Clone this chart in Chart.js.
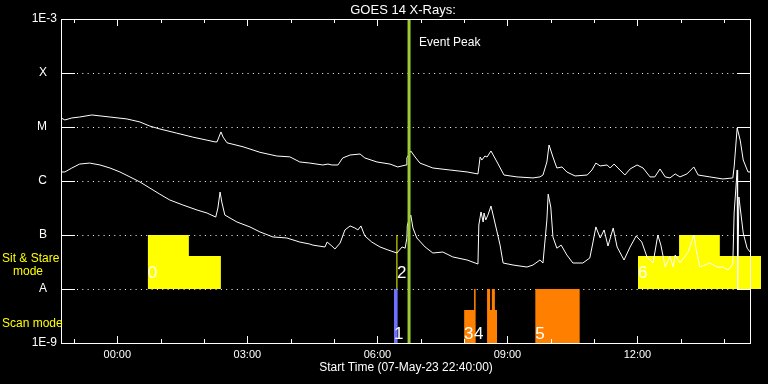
<!DOCTYPE html>
<html><head><meta charset="utf-8">
<script src="https://cdn.jsdelivr.net/npm/chart.js@4.4.1/dist/chart.umd.min.js"></script>
<style>html,body{margin:0;padding:0;background:#000;}#wrap{width:768px;height:384px;}</style>
</head><body><div id="wrap"><canvas id="c" width="768" height="384"></canvas></div>
<script>
// time in hours relative to 08-May 00:00 (start 07-May-23 22:40)
const plotStartTime = -1.30;
const plotEndTime = 14.62;      // right frame of the plot
const xAxisMaxTime = 14.85;     // last Sit & Stare block runs past the frame
const xTickValues = [0, 3, 6, 9, 12];
const xTickLabels = ['00:00', '03:00', '06:00', '09:00', '12:00'];
const yTickValues = [1e-9, 1e-8, 1e-7, 1e-6, 1e-5, 1e-4, 1e-3];
const yTickLabels = ['1E-9', 'A   ', 'B   ', 'C   ', 'M   ', 'X   ', '1E-3'];

const longTimes = [-1.30,-1.21,-1.05,-0.87,-0.59,-0.17,0.22,0.52,0.75,0.98,
  1.37,1.74,2.07,2.25,2.30,2.39,2.44,2.53,2.90,3.29,
  3.68,3.98,4.21,4.44,4.74,4.86,4.95,5.09,5.20,5.37,
  5.60,5.71,5.99,6.29,6.47,6.66,6.68,6.77,6.87,6.98,
  7.28,7.67,8.07,8.32,8.37,8.41,8.48,8.53,8.62,8.76,
  8.92,9.22,9.59,9.75,9.82,9.91,9.96,10.05,10.14,10.26,
  10.37,10.56,10.84,10.95,11.04,11.14,11.30,11.37,11.46,11.55,
  11.71,11.83,11.99,12.13,12.29,12.40,12.52,12.64,12.75,12.87,
  12.98,13.14,13.30,13.40,13.67,13.97,14.20,14.23,14.30,14.37,
  14.44,14.55,14.62];
const longFlux = [1.47e-5,1.35e-5,1.47e-5,1.53e-5,1.67e-5,1.53e-5,1.41e-5,1.24e-5,1.04e-5,9.2e-6,
  7.7e-6,6.5e-6,5.7e-6,5.3e-6,5.3e-6,8.1e-6,6.5e-6,5.1e-6,4.3e-6,3.4e-6,
  2.9e-6,2.8e-6,2.25e-6,2.15e-6,1.98e-6,2.06e-6,1.98e-6,1.98e-6,2.67e-6,3.03e-6,
  3.16e-6,2.67e-6,2.25e-6,2.06e-6,1.82e-6,1.98e-6,2.67e-6,3.6e-6,2.78e-6,2.15e-6,
  1.74e-6,1.6e-6,1.47e-6,1.35e-6,2.78e-6,2.45e-6,2.9e-6,2.78e-6,3.6e-6,2.25e-6,
  1.29e-6,1.19e-6,1.14e-6,1.19e-6,1.29e-6,2.25e-6,4.64e-6,2.78e-6,1.74e-6,1.82e-6,
  1.47e-6,1.24e-6,1.29e-6,1.6e-6,2.15e-6,1.9e-6,1.98e-6,1.74e-6,2.06e-6,1.74e-6,
  1.29e-6,1.67e-6,1.98e-6,1.74e-6,1.19e-6,1.19e-6,1.67e-6,1.19e-6,1.14e-6,1.35e-6,
  1.19e-6,1.35e-6,1.82e-6,1.29e-6,1.19e-6,1.09e-6,1.14e-6,1.82e-6,9.6e-6,5.7e-6,
  2.45e-6,1.47e-6,1.47e-6];

const shortTimes = [-1.30,-1.21,-1.05,-0.87,-0.64,-0.40,-0.17,0.06,0.29,0.52,
  0.75,0.98,1.21,1.51,1.84,2.07,2.27,2.32,2.37,2.41,
  2.48,2.76,3.06,3.29,3.59,3.91,4.21,4.44,4.51,4.79,
  4.84,4.95,5.02,5.14,5.25,5.37,5.48,5.55,5.62,5.71,
  5.87,6.06,6.24,6.45,6.57,6.64,6.68,6.69,6.77,6.82,
  6.91,7.10,7.28,7.51,7.74,8.07,8.32,8.34,8.39,8.44,
  8.46,8.50,8.55,8.62,8.67,8.76,8.83,8.90,9.13,9.45,
  9.59,9.75,9.82,9.91,9.94,10.00,10.05,10.14,10.24,10.37,
  10.51,10.74,10.90,10.97,11.04,11.14,11.23,11.32,11.44,11.53,
  11.69,11.83,11.97,12.10,12.22,12.36,12.47,12.54,12.64,12.75,
  12.82,12.87,12.98,13.17,13.30,13.37,13.44,13.67,13.84,13.97,
  14.09,14.20,14.23,14.30,14.31,14.34,14.44,14.53,14.60];
const shortFlux = [1.47e-6,1.47e-6,1.74e-6,2.06e-6,2.15e-6,1.98e-6,1.74e-6,1.47e-6,1.19e-6,9.6e-7,
  7.4e-7,5.7e-7,4.45e-7,3.6e-7,2.9e-7,2.55e-7,2.15e-7,3.16e-7,6.25e-7,4.08e-7,
  2.34e-7,1.74e-7,1.41e-7,1.14e-7,9.2e-8,8.8e-8,7.4e-8,6.8e-8,6.5e-8,6.0e-8,
  7.4e-8,6.25e-8,5.5e-8,7.1e-8,1.24e-7,1.47e-7,1.35e-7,1.24e-7,1.47e-7,9.6e-8,
  7.4e-8,6.0e-8,5.3e-8,4.64e-8,6.0e-8,5.7e-8,8.8e-8,1.53e-7,2.34e-7,1.35e-7,
  8.8e-8,6.0e-8,4.64e-8,4.84e-8,3.92e-8,3.44e-8,2.9e-8,1.53e-7,2.67e-7,1.74e-7,
  2.55e-7,1.9e-7,2.34e-7,3.44e-7,2.34e-7,1.14e-7,6.5e-8,3.03e-8,2.78e-8,2.55e-8,
  2.78e-8,3.44e-8,3.03e-8,1.9e-7,5.7e-7,3.3e-7,9.2e-8,5.7e-8,6.5e-8,4.27e-8,
  3.03e-8,3.03e-8,3.75e-8,7.1e-8,1.41e-7,8.8e-8,1.24e-7,6.25e-8,1.35e-7,6.0e-8,
  3.44e-8,6.0e-8,9.6e-8,7.4e-8,3.92e-8,3.03e-8,1.0e-7,6.5e-8,2.55e-8,4.08e-8,
  2.55e-8,4.27e-8,3.03e-8,4.84e-8,1.0e-7,4.64e-8,2.55e-8,3.03e-8,2.55e-8,2.55e-8,
  2.25e-8,2.9e-8,2.55e-7,1.6e-6,1.0e-8,5.06e-7,1.09e-7,5.7e-8,4.84e-8];

// Sit & Stare blocks (rectangles from base level 1E-8 to top)
const sitStareStart = [0.70, 1.65, 12.01, 12.96, 13.90];
const sitStareEnd   = [1.65, 2.39, 12.96, 13.90, 14.85];
const sitStareTop   = [1e-7, 4.1e-8, 4.1e-8, 1e-7, 4.1e-8];
const sitStareBase  = 1e-8;
const sitStareLineTime = 6.45;            // event 2 (instant)
const sitStareLineTop = 1e-7;
// Scan mode blocks (rectangles from 1E-9 up to top)
const scanBlueStart = [6.38];
const scanBlueEnd   = [6.47];
const scanBlueTop   = [1e-8];
const scanStart = [8.00, 8.23, 8.53, 8.60, 8.64, 8.71, 9.64];
const scanEnd   = [8.23, 8.27, 8.60, 8.64, 8.71, 8.76, 10.67];
const scanTop   = [4.1e-9, 1e-8, 1e-8, 4.1e-9, 1e-8, 4.1e-9, 1e-8];
const eventPeakTime = 6.73;

const eventLabels = ['0', '2', '6'];
const eventLabelTimes = [0.70, 6.45, 12.01];
const scanLabels = ['1', '3', '4', '5'];
const scanLabelTimes = [6.38, 8.00, 8.23, 9.64];

const pts = (xs, ys) => xs.map((x, i) => ({x: x, y: ys[i]}));
function blocks(st, en, top) {
  const out = [];
  st.forEach((s, i) => {
    out.push({x: s, y: top[i]}, {x: en[i], y: top[i]});
    if (i < st.length - 1 && Math.abs(st[i + 1] - en[i]) > 1e-9) out.push({x: en[i], y: null});
  });
  return out;
}

const FONT = "'Liberation Sans', Arial, sans-serif";
Chart.defaults.font.family = FONT;
Chart.defaults.color = '#fff';

const bgPlugin = {
  id: 'bg',
  beforeDraw(chart) {
    const c = chart.ctx; c.save(); c.fillStyle = '#000';
    c.fillRect(0, 0, chart.width, chart.height); c.restore();
  },
  beforeDatasetsDraw(chart) {
    // dotted decade grid lines, from the left axis to the plot frame
    const c = chart.ctx, a = chart.chartArea, xs = chart.scales.x, ys = chart.scales.y;
    const right = Math.round(xs.getPixelForValue(plotEndTime));
    c.save();
    c.strokeStyle = '#fff'; c.lineWidth = 1; c.setLineDash([1, 4.33]);
    c.beginPath();
    yTickValues.slice(1, -1).forEach(v => {
      const py = Math.round(ys.getPixelForValue(v)) + 0.5;
      c.moveTo(a.left, py); c.lineTo(right, py);
    });
    c.stroke();
    c.restore();
  }
};

const overlay = {
  id: 'overlay',
  afterDatasetsDraw(chart) {
    const c = chart.ctx, a = chart.chartArea;
    const xs = chart.scales.x, ys = chart.scales.y;
    const left = Math.round(a.left), right = Math.round(xs.getPixelForValue(plotEndTime));
    c.save();
    c.strokeStyle = '#fff'; c.lineWidth = 1;
    c.strokeRect(left + 0.5, Math.round(a.top) + 0.5, right - left - 1, Math.round(a.bottom - a.top));
    c.beginPath();
    for (let h = Math.ceil(plotStartTime); h <= Math.floor(plotEndTime); h++) {
      const px = Math.round(xs.getPixelForValue(h)) + 0.5;
      const len = (h % 3 === 0) ? 7 : 4;
      c.moveTo(px, a.bottom); c.lineTo(px, a.bottom - len);
      c.moveTo(px, a.top); c.lineTo(px, a.top + len);
    }
    yTickValues.slice(1, -1).forEach(v => {
      const py = Math.round(ys.getPixelForValue(v)) + 0.5;
      c.moveTo(left, py); c.lineTo(left + 14, py);
      c.moveTo(right - 14, py); c.lineTo(right, py);
    });
    c.stroke();
    const mid = (left + right) / 2;
    c.fillStyle = '#fff';
    c.textBaseline = 'middle';
    c.textAlign = 'center';
    c.font = '13px ' + FONT;
    c.fillText('GOES 14 X-Rays:', mid - 3, 10);
    c.font = '12px ' + FONT;
    c.fillText('Start Time (07-May-23 22:40:00)', mid, 368);
    c.textAlign = 'left';
    c.fillText('Event Peak', xs.getPixelForValue(eventPeakTime) + 10, a.top + 24);
    c.fillStyle = '#ffff00';
    c.fillText('Sit & Stare', 2, 259);
    c.fillText('mode', 13, 272);
    c.fillText('Scan mode', 2, 324);
    c.fillStyle = '#fff';
    c.font = '17px ' + FONT;
    c.textBaseline = 'alphabetic';
    eventLabels.forEach((t, i) => c.fillText(t, xs.getPixelForValue(eventLabelTimes[i]), ys.getPixelForValue(sitStareBase) - 11));
    scanLabels.forEach((t, i) => c.fillText(t, xs.getPixelForValue(scanLabelTimes[i]), a.bottom - 4));
    c.restore();
  }
};

new Chart(document.getElementById('c'), {
  type: 'line',
  data: {
    datasets: [
      {label: 'Event Peak', data: [{x: eventPeakTime, y: 1e-9}, {x: eventPeakTime, y: 1e-3}],
       borderColor: '#9acd32', borderWidth: 3, order: 0},
      {label: '0.1-0.8 nm', data: pts(longTimes, longFlux), borderColor: '#fff', borderWidth: 1, order: 1},
      {label: '0.05-0.4 nm', data: pts(shortTimes, shortFlux), borderColor: '#fff', borderWidth: 1, order: 1},
      {label: 'Sit & Stare 2', data: [{x: sitStareLineTime, y: sitStareBase}, {x: sitStareLineTime, y: sitStareLineTop}],
       borderColor: '#ffff00', borderWidth: 1, order: 2},
      {label: 'Sit & Stare', data: blocks(sitStareStart, sitStareEnd, sitStareTop), borderWidth: 0,
       borderColor: 'rgba(0,0,0,0)', backgroundColor: '#ffff00', fill: {value: sitStareBase}, spanGaps: false, order: 3},
      {label: 'Scan 1', data: blocks(scanBlueStart, scanBlueEnd, scanBlueTop), borderWidth: 0,
       borderColor: 'rgba(0,0,0,0)', backgroundColor: '#7070ff', fill: 'start', order: 3},
      {label: 'Scan', data: blocks(scanStart, scanEnd, scanTop), borderWidth: 0,
       borderColor: 'rgba(0,0,0,0)', backgroundColor: '#ff8000', fill: 'start', spanGaps: false, order: 3}
    ]
  },
  options: {
    responsive: false, animation: false, devicePixelRatio: 1,
    layout: {padding: {left: 0, right: 7, top: 19, bottom: 0}},
    elements: {point: {radius: 0, hoverRadius: 0}, line: {tension: 0}},
    plugins: {legend: {display: false}, tooltip: {enabled: false}, title: {display: false}},
    scales: {
      x: {
        type: 'linear', min: plotStartTime, max: xAxisMaxTime,
        afterBuildTicks: s => { s.ticks = xTickValues.map(v => ({value: v})); },
        afterFit: s => { s.height = 41; },
        grid: {display: false, drawTicks: false},
        border: {display: false},
        ticks: {color: '#fff', font: {size: 11}, padding: 5, maxRotation: 0, autoSkip: false,
          callback: v => { const i = xTickValues.indexOf(v); return i >= 0 ? xTickLabels[i] : ''; }},
        title: {display: false}
      },
      y: {
        type: 'logarithmic', min: 1e-9, max: 1e-3,
        afterBuildTicks: s => { s.ticks = yTickValues.map(v => ({value: v})); },
        afterFit: s => { s.width = 61; },
        grid: {display: false, drawTicks: false},
        border: {display: false},
        ticks: {color: '#fff', font: {size: 12}, padding: 4, autoSkip: false,
          callback: v => { const i = yTickValues.findIndex(t => Math.abs(Math.log10(t) - Math.log10(v)) < 1e-6); return i >= 0 ? yTickLabels[i] : ''; }}
      }
    }
  },
  plugins: [bgPlugin, overlay]
});
</script>
</body></html>
